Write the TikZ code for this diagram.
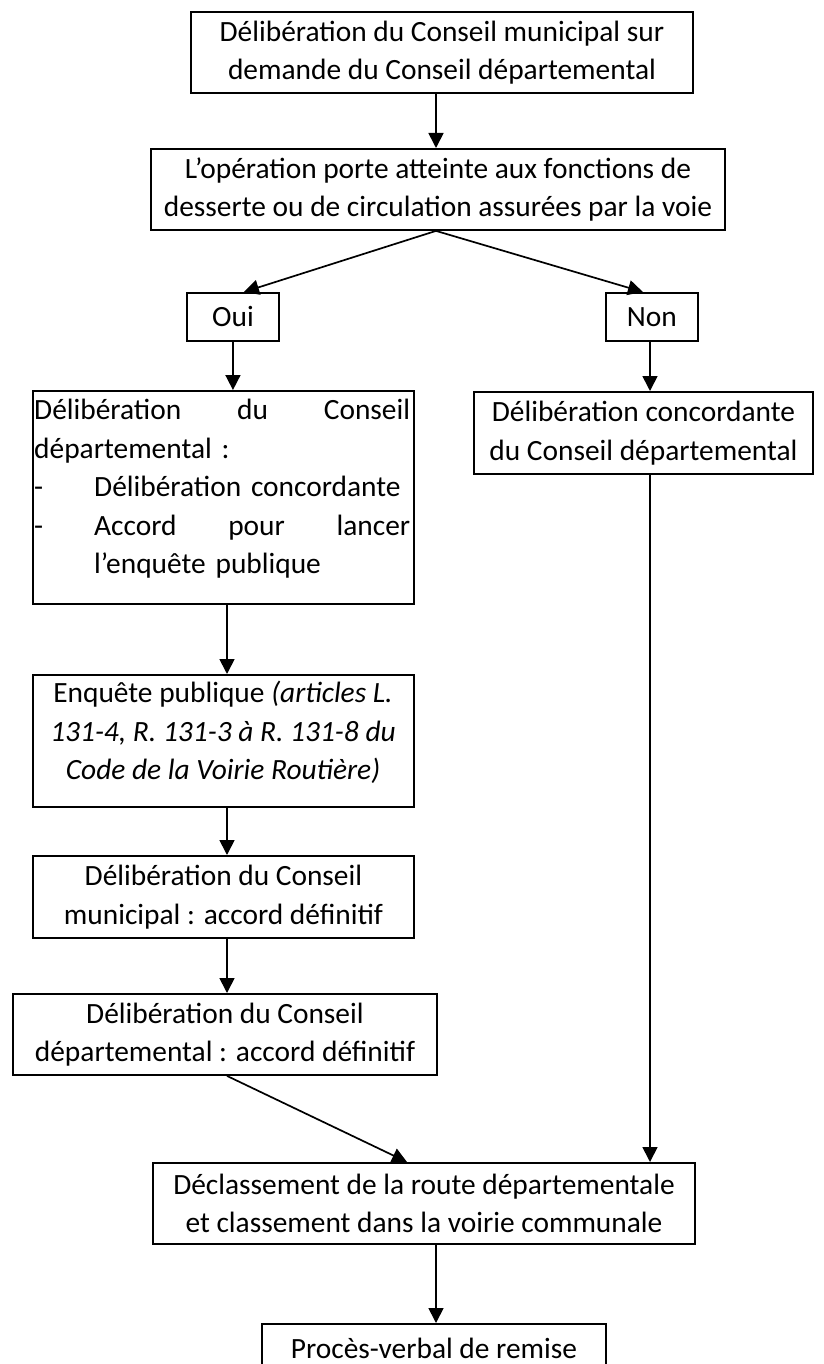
\documentclass[tikz,border=0pt]{standalone}
\usepackage{fontspec}
\setmainfont{Carlito}
\usetikzlibrary{arrows.meta,calc}
\begin{document}
\begin{tikzpicture}[x=1pt,y=-1pt,
  fnt/.style={font=\fontsize{29.4}{38.5}\selectfont},
  box/.style={draw, line width=1.9pt, inner sep=0pt, anchor=north west, align=center, fnt},
  conn/.style={line width=1.7pt, -{Triangle[length=15pt,width=15pt]}},
  txt/.style={inner sep=0pt, fnt}]
\useasboundingbox (0,0) rectangle (823,1364);
\clip (0,0) rectangle (823,1364);
\fill[white] (0,0) rectangle (823,1364);

% vertical guide coordinates
\coordinate (cx) at (436,0);
\coordinate (lx) at (227,0);
\coordinate (nx) at (650,0);
\coordinate (dx) at (407,0);

\node[box, minimum width=502pt, minimum height=81pt] (b1) at (190,11)
  {Délibération du Conseil municipal sur\\demande du Conseil départemental};
\node[box, minimum width=574pt, minimum height=81pt] (b2) at (150,148)
  {L’opération porte atteinte aux fonctions de\\desserte ou de circulation assurées par la voie};
\node[box, minimum width=92pt, minimum height=48pt] (oui) at (186,292) {Oui};
\node[box, minimum width=92pt, minimum height=48pt] (non) at (605,292) {Non};

\node[box, minimum width=381pt, minimum height=213pt] (b5) at (32,390) {};
\node[txt, anchor=north west, text width=376pt] (t5) at (34,399) {%
  \hbox to\linewidth{Délibération\hfill du\hfill Conseil}\par
  \hbox to\linewidth{départemental :\hfill}\par
  \hbox to\linewidth{\hbox to 60pt{-\hfil}Délibération concordante\hfill}\par
  \hbox to\linewidth{\hbox to 60pt{-\hfil}Accord\hfill pour\hfill lancer}\par
  \hbox to\linewidth{\hbox to 60pt{\hfil}l’enquête publique\hfill}};

\node[box, minimum width=339pt, minimum height=82pt] (b6) at (473,391)
  {Délibération concordante\\du Conseil départemental};

\node[box, minimum width=381pt, minimum height=132pt] (b7) at (32,674) {};
\node[txt, anchor=north, align=center] (t7) at (223,681)
  {Enquête publique \textit{(articles L.}\\\textit{131-4, R. 131-3 à R. 131-8 du}\\\textit{Code de la Voirie Routière)}};

\node[box, minimum width=381pt, minimum height=82pt] (b8) at (32,855)
  {Délibération du Conseil\\municipal : accord définitif};
\node[box, minimum width=424pt, minimum height=81pt] (b9) at (12,993)
  {Délibération du Conseil\\départemental : accord définitif};
\node[box, minimum width=542pt, minimum height=81pt] (b10) at (152,1162)
  {Déclassement de la route départementale\\et classement dans la voirie communale};
\node[box, minimum width=344pt, minimum height=48pt] (b11) at (261,1323)
  {Procès-verbal de remise};

% connectors
\draw[conn] (b1.south -| cx) -- (b2.north -| cx);
\draw[conn] (b2.south -| cx) -- ($(oui.north)+(11,0)$);
\draw[conn] (b2.south -| cx) -- ($(non.north)+(-9,0)$);
\draw[conn] (oui.south) -- (oui.south |- b5.north);
\draw[conn] (non.south -| nx) -- (b6.north -| nx);
\draw[conn] (b5.south -| lx) -- (b7.north -| lx);
\draw[conn] (b7.south -| lx) -- (b8.north -| lx);
\draw[conn] (b8.south -| lx) -- (b9.north -| lx);
\draw[conn] (b9.south -| lx) -- (b10.north -| dx);
\draw[conn] (b6.south -| nx) -- (b10.north -| nx);
\draw[conn] (b10.south -| cx) -- (b11.north -| cx);
\end{tikzpicture}
\end{document}
